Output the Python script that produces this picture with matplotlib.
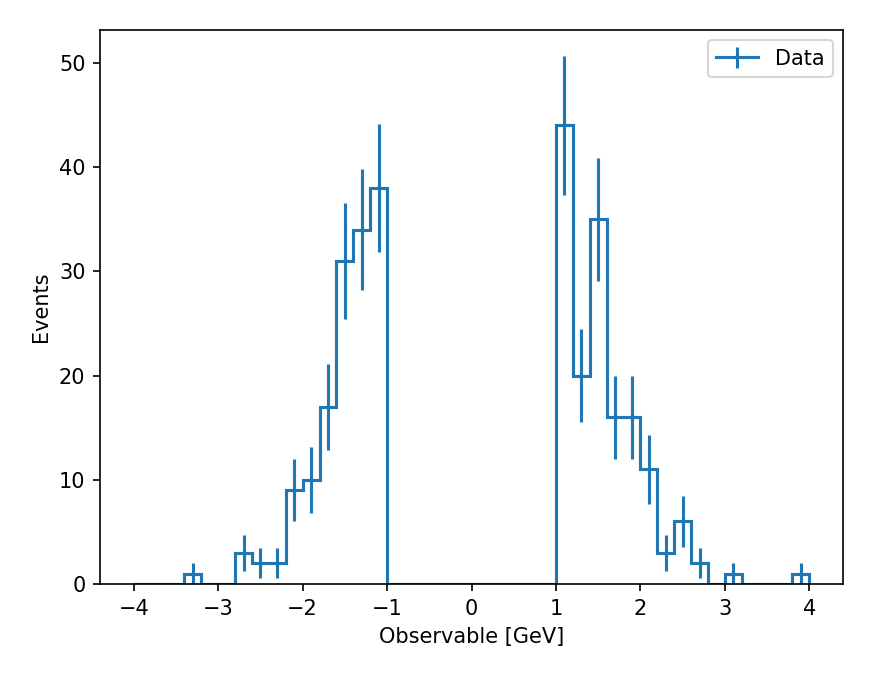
import matplotlib
matplotlib.use('Agg')
import matplotlib.pyplot as plt
import numpy as np
from matplotlib.lines import Line2D
from matplotlib.collections import LineCollection
from matplotlib.container import ErrorbarContainer

# bin edges -4..4, width 0.2
edges = np.linspace(-4, 4, 41)
counts = np.array([
    0, 0, 0, 1, 0, 0, 3, 2, 2, 9,
    10, 17, 31, 34, 38, 0, 0, 0, 0, 0,
    0, 0, 0, 0, 0, 44, 20, 35, 16, 16,
    11, 3, 6, 2, 0, 1, 0, 0, 0, 1
])
centers = 0.5 * (edges[:-1] + edges[1:])
errors = np.sqrt(counts)

fig = plt.figure(figsize=(8.73 / 1.5, 6.79 / 1.5), dpi=150)
ax = fig.add_axes([0.1145, 0.140, 0.8512, 0.816])

# histogram outline
ax.stairs(counts, edges, color='C0', linewidth=1.5)
# error bars at bin centres (zero bins have zero error)
ax.errorbar(centers, counts, yerr=errors, fmt='none', ecolor='C0', elinewidth=1.5)

ax.set_ylim(bottom=0)
ax.set_xlabel('Observable [GeV]')
ax.set_ylabel('Events')

# legend entry: line with vertical error bar
handle = ErrorbarContainer((Line2D([], [], color='C0', linewidth=1.5), (),
                            (LineCollection([], colors='C0', linewidths=1.5),)),
                           has_xerr=False, has_yerr=True, label='Data')
ax.legend(handles=[handle], labels=['Data'], loc='upper right')

fig.savefig('out.png', dpi=150)
